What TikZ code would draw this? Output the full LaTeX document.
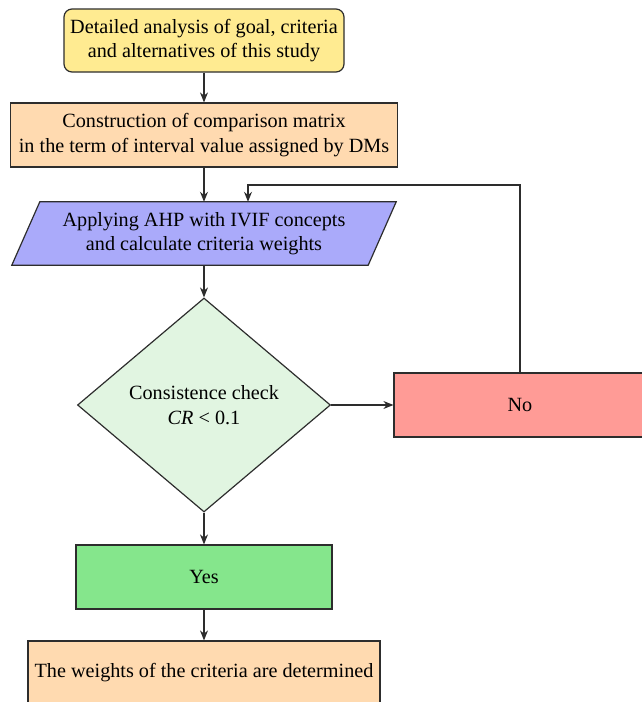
\documentclass[tikz,border=0pt]{standalone}
\usepackage{fontspec}
\setmainfont{Liberation Serif}
\usetikzlibrary{shapes.geometric,arrows.meta,backgrounds}
\definecolor{cborder}{RGB}{45,45,45}
\definecolor{cyellow}{RGB}{255,235,145}
\definecolor{cpeach}{RGB}{255,218,176}
\definecolor{clav}{RGB}{170,170,250}
\definecolor{cdiam}{RGB}{225,245,225}
\definecolor{csalmon}{RGB}{255,155,150}
\definecolor{cgreen}{RGB}{133,230,140}
\begin{document}
\begin{tikzpicture}[x=1pt,y=-1pt,
  txt/.style={align=center, font=\fontsize{20.2}{24.5}\selectfont, inner sep=0pt},
  box/.style={txt, draw=cborder, line width=1.2pt, minimum height=64pt},
  arr/.style={draw=cborder, line width=1.2pt, -{Stealth[length=10pt,width=8pt]}}]
\clip (0,0) rectangle (642,702);

\node[box, fill=cyellow, rounded corners=8pt, minimum width=280pt, minimum height=63pt] (goal) at (204,40.5)
  {Detailed analysis of goal, criteria\\and alternatives of this study};
\node[box, fill=cpeach, minimum width=387pt] (matrix) at (204,135)
  {Construction of comparison matrix\\in the term of interval value assigned by DMs};
\node[txt, minimum width=356pt, minimum height=63pt] (ahp) at (204,233.5)
  {Applying AHP with IVIF concepts\\and calculate criteria weights};
\begin{scope}[on background layer]
  \draw[cborder, line width=1.2pt, fill=clav]
    ([xshift=14pt]ahp.north west) -- ([xshift=14pt]ahp.north east)
    -- ([xshift=-14pt]ahp.south east) -- ([xshift=-14pt]ahp.south west) -- cycle;
\end{scope}
\node[diamond, txt, draw=cborder, line width=1.2pt, fill=cdiam, minimum width=253pt, minimum height=214pt] (check) at (204,405)
  {Consistence check\\\textit{CR} < 0.1};
\node[box, fill=csalmon, minimum width=252pt] (no) at (520,405) {No};
\node[box, fill=cgreen, minimum width=256pt] (yes) at (204,577) {Yes};
\node[box, fill=cpeach, minimum width=352pt] (result) at (204,673)
  {The weights of the criteria are determined};

\coordinate (turn) at (248,185);

\draw[arr] (goal) -- (matrix);
\draw[arr] (matrix) -- (ahp);
\draw[arr] (ahp) -- (check);
\draw[arr] (check) -- (no);
\draw[arr] (check) -- (yes);
\draw[arr] (yes) -- (result);
\draw[arr] (no.north) |- (turn) -- (turn |- ahp.north);
\end{tikzpicture}
\end{document}
